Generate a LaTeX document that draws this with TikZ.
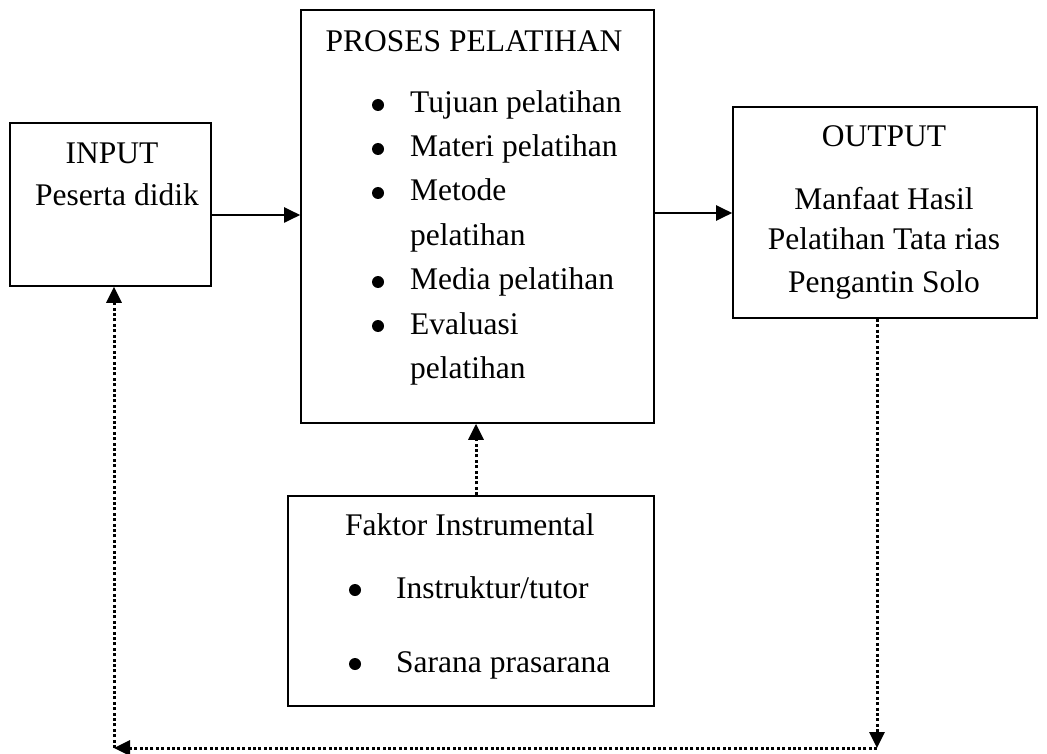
\documentclass[tikz,border=0pt]{standalone}
\usepackage{fontspec}
\setmainfont{Liberation Serif}
\usetikzlibrary{arrows.meta}
\begin{document}
\begin{tikzpicture}[x=1pt,y=-1pt,
  box/.style={draw,line width=1.6pt,inner sep=0pt},
  txt/.style={font=\fontsize{31.5}{36}\selectfont,inner sep=0pt},
  bul/.style={circle,fill,inner sep=0pt,minimum size=12pt},
  solidarrow/.style={line width=2pt,-{Triangle[length=16pt,width=15pt]}},
  dotarrow/.style={line width=3pt,dash pattern=on 3pt off 2.4pt,-{Triangle[length=16pt,width=15pt]}}]
\useasboundingbox (0,0) rectangle (1047,754);
% boxes
\node[box,minimum width=201pt,minimum height=163pt] (input) at (110.5,204.5) {};
\node[box,minimum width=353pt,minimum height=413pt] (proses) at (477.5,216.5) {};
\node[box,minimum width=304pt,minimum height=211pt] (output) at (885,212.5) {};
\node[box,minimum width=366pt,minimum height=210pt] (faktor) at (471,601) {};
% input texts
\node[txt,anchor=base] (tin) at (112,164) {INPUT};
\node[txt,anchor=base west] (tpes) at (35,206) {Peserta didik};
% proses texts
\node[txt,anchor=base] (tpr) at (474,52) {PROSES PELATIHAN};
\node[bul] (b1) at (378,105) {};
\node[txt,anchor=base west] (p1) at (410,113) {Tujuan pelatihan};
\node[bul] (b2) at (378,149) {};
\node[txt,anchor=base west] (p2) at (410,157) {Materi pelatihan};
\node[bul] (b3) at (378,193) {};
\node[txt,anchor=base west] (p3) at (410,201) {Metode};
\node[txt,anchor=base west] (p3b) at (410,246) {pelatihan};
\node[bul] (b4) at (378,282) {};
\node[txt,anchor=base west] (p4) at (410,290) {Media pelatihan};
\node[bul] (b5) at (378,326) {};
\node[txt,anchor=base west] (p5) at (410,334) {Evaluasi};
\node[txt,anchor=base west] (p5b) at (410,378) {pelatihan};
% output texts
\node[txt,anchor=base] (tout) at (884,147) {OUTPUT};
\node[txt,anchor=base] (o1) at (884,210) {Manfaat Hasil};
\node[txt,anchor=base] (o2) at (884,250) {Pelatihan Tata rias};
\node[txt,anchor=base] (o3) at (884,292) {Pengantin Solo};
% faktor texts
\node[txt,anchor=base west] (tf) at (345,535) {Faktor Instrumental};
\node[bul] (fb1) at (355,590) {};
\node[txt,anchor=base west] (f1) at (396,598) {Instruktur/tutor};
\node[bul] (fb2) at (355,664) {};
\node[txt,anchor=base west] (f2) at (396,672) {Sarana prasarana};
% connectors
\coordinate (a1) at (0,215);
\coordinate (a2) at (0,213);
\draw[solidarrow] (input.east |- a1) -- (proses.west |- a1);
\draw[solidarrow] (proses.east |- a2) -- (output.west |- a2);
\coordinate (fx) at (476,0);
\draw[dotarrow] (fx |- faktor.north) -- (fx |- proses.south);
\coordinate (br) at (877,748);
\coordinate (bl) at (114,748);
\draw[dotarrow] (br |- output.south) -- (br);
\draw[dotarrow] (br) -- (bl);
\draw[dotarrow] (bl) -- (bl |- input.south);
\end{tikzpicture}
\end{document}
